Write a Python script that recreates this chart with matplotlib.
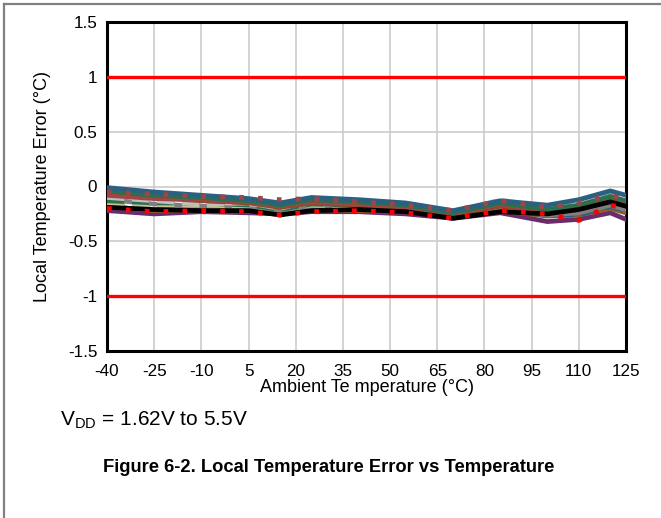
import matplotlib
matplotlib.use("Agg")
import matplotlib.pyplot as plt
from matplotlib.lines import Line2D

plt.rcParams['font.family'] = ['Liberation Sans', 'DejaVu Sans']

temps = [-40, -25, -10, 5, 15, 25, 40, 55, 70, 85, 100, 110, 120, 125]

s_teal   = [-0.01, -0.05, -0.08, -0.11, -0.15, -0.10, -0.12, -0.15, -0.22, -0.13, -0.17, -0.12, -0.04, -0.08]
s_green  = [-0.04, -0.08, -0.10, -0.13, -0.17, -0.12, -0.14, -0.17, -0.24, -0.15, -0.21, -0.17, -0.09, -0.13]
s_brown  = [-0.06, -0.10, -0.13, -0.15, -0.19, -0.15, -0.17, -0.20, -0.26, -0.18, -0.23, -0.20, -0.13, -0.17]
s_rbrown = [-0.08, -0.11, -0.12, -0.14, -0.18, -0.14, -0.16, -0.19, -0.25, -0.16, -0.22, -0.18, -0.10, -0.14]
s_gray   = [-0.12, -0.16, -0.18, -0.20, -0.22, -0.18, -0.20, -0.22, -0.27, -0.20, -0.26, -0.24, -0.17, -0.21]
s_lgray  = [-0.10, -0.13, -0.16, -0.15, -0.20, -0.13, -0.14, -0.18, -0.25, -0.12, -0.20, -0.15, -0.07, -0.10]
s_purple = [-0.22, -0.25, -0.23, -0.24, -0.25, -0.23, -0.23, -0.25, -0.29, -0.24, -0.32, -0.30, -0.24, -0.30]
s_black  = [-0.19, -0.21, -0.22, -0.22, -0.26, -0.22, -0.21, -0.23, -0.29, -0.23, -0.25, -0.21, -0.14, -0.18]
s_khaki  = [-0.15, -0.17, -0.17, -0.18, -0.20, -0.17, -0.18, -0.20, -0.26, -0.18, -0.21, -0.16, -0.12, -0.15]
s_obrown = [-0.18, -0.22, -0.21, -0.22, -0.24, -0.21, -0.22, -0.23, -0.28, -0.22, -0.27, -0.26, -0.20, -0.24]
s_teal2  = [-0.17, -0.20, -0.20, -0.21, -0.23, -0.20, -0.21, -0.22, -0.27, -0.21, -0.26, -0.26, -0.18, -0.22]
s_green2 = [-0.13, -0.15, -0.15, -0.17, -0.21, -0.16, -0.17, -0.20, -0.26, -0.17, -0.22, -0.19, -0.11, -0.15]
s_red    = [-0.20, -0.23, -0.22, -0.23, -0.26, -0.23, -0.22, -0.24, -0.29, -0.22, -0.25, -0.31, -0.17, -0.20]
s_dred   = [-0.05, -0.07, -0.09, -0.10, -0.12, -0.11, -0.14, -0.17, -0.22, -0.13, -0.19, -0.15, -0.08, -0.12]

limit_upper = 1.0
limit_lower = -1.0

x_ticks = [-40, -25, -10, 5, 20, 35, 50, 65, 80, 95, 110, 125]
y_ticks = [-1.5, -1, -0.5, 0, 0.5, 1, 1.5]
y_ticklabels = ['-1.5', '-1', '-0.5', '0', '0.5', '1', '1.5']

series = [
    (s_purple, '#6A2C6A', '-'),
    (s_obrown, '#8C5A2B', '-'),
    (s_teal2,  '#2B6180', '--'),
    (s_gray,   '#7F7F7F', '-'),
    (s_khaki,  '#C8C090', '--'),
    (s_green2, '#2D6E4E', '--'),
    (s_lgray,  '#BFBFBF', '--'),
    (s_brown,  '#8B4A2B', '-'),
    (s_rbrown, '#A04545', '-'),
    (s_green,  '#2D6E4E', '-'),
    (s_teal,   '#2B6180', '-'),
    (s_black,  '#000000', '-'),
    (s_dred,   '#A04545', ':'),
    (s_red,    '#FF0000', ':'),
]

fig = plt.figure(figsize=(6.61, 5.18), dpi=100)
ax = fig.add_axes([107/661, 1-351/518, 519/661, 329/518])

ax.set_xlim(-40, 125)
ax.set_ylim(-1.5, 1.5)
ax.set_xticks(x_ticks)
ax.set_xticklabels([str(t) for t in x_ticks])
ax.set_yticks(y_ticks)
ax.set_yticklabels(y_ticklabels)
ax.grid(True, color='#CCCCCC', linewidth=1.2)
ax.set_axisbelow(True)
ax.tick_params(length=0, labelsize=12.3, colors='black')
ax.tick_params(axis='x', pad=9)
ax.tick_params(axis='y', pad=7)
for sp in ax.spines.values():
    sp.set_linewidth(2.2)
    sp.set_color('black')

ax.axhline(limit_upper, color='#FF0000', linewidth=2.4, zorder=3)
ax.axhline(limit_lower, color='#FF0000', linewidth=2.4, zorder=3)

for vals, col, ls in series:
    if ls == ':':
        ax.plot(temps, vals, color=col, linewidth=3.4, linestyle=(0, (1, 3)), zorder=4)
    else:
        ax.plot(temps, vals, color=col, linewidth=3.4, linestyle=ls, zorder=4)

ax.set_xlabel('Ambient Te mperature (°C)', fontsize=13, labelpad=0)
ax.set_ylabel('Local Temperature Error (°C)', fontsize=13, labelpad=12)

fig.text(60/661, 1-420/518, r'V$_{\mathregular{DD}}$ = 1.62V to 5.5V', fontsize=15,
         ha='left', va='center')
fig.text(329/661, 1-467/518, 'Figure 6-2. Local Temperature Error vs Temperature',
         fontsize=13.2, fontweight='bold', ha='center', va='center')

fig.add_artist(Line2D([4/661, 1.0], [1-4/518, 1-4/518], color='#808080', linewidth=1.6,
                      transform=fig.transFigure))
fig.add_artist(Line2D([4/661, 4/661], [0.0, 1-4/518], color='#808080', linewidth=1.6,
                      transform=fig.transFigure))

fig.savefig('out.png', dpi=100, facecolor='white')
